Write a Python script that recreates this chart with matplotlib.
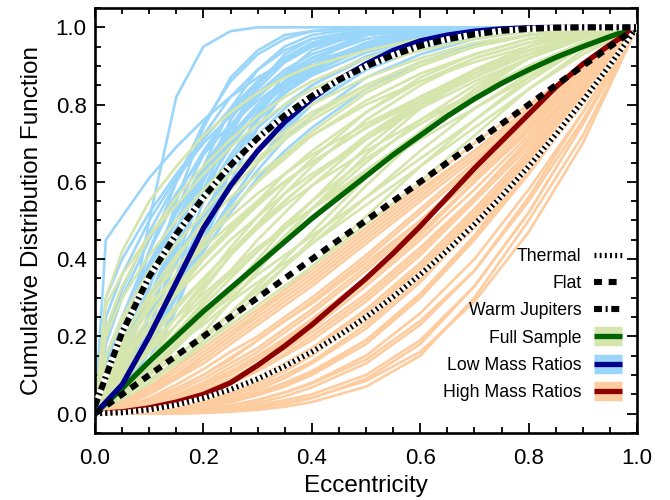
import matplotlib
matplotlib.use('Agg')
import matplotlib.pyplot as plt
from matplotlib.lines import Line2D
from matplotlib.ticker import MultipleLocator

plt.rcParams['font.family'] = ['Liberation Sans', 'DejaVu Sans']

# eccentricity grid for the reference / median curves
ecc_fine = [0.0, 0.05, 0.1, 0.15, 0.2, 0.25, 0.3, 0.35, 0.4, 0.45, 0.5,
            0.55, 0.6, 0.65, 0.7, 0.75, 0.8, 0.85, 0.9, 0.95, 1.0]

thermal = [0.0, 0.0025, 0.01, 0.0225, 0.04, 0.0625, 0.09, 0.1225, 0.16, 0.2025, 0.25,
           0.3025, 0.36, 0.4225, 0.49, 0.5625, 0.64, 0.7225, 0.81, 0.9025, 1.0]
flat = [0.0, 0.05, 0.1, 0.15, 0.2, 0.25, 0.3, 0.35, 0.4, 0.45, 0.5,
        0.55, 0.6, 0.65, 0.7, 0.75, 0.8, 0.85, 0.9, 0.95, 1.0]
warm_jupiters = [0.02, 0.21, 0.355, 0.465, 0.56, 0.643, 0.713, 0.772, 0.822, 0.864, 0.899,
                 0.928, 0.952, 0.969, 0.982, 0.991, 0.996, 0.999, 1.0, 1.0, 1.0]
full_sample = [0.0, 0.065, 0.135, 0.20, 0.265, 0.325, 0.385, 0.445, 0.505, 0.56, 0.615,
               0.67, 0.72, 0.77, 0.815, 0.855, 0.89, 0.922, 0.95, 0.976, 1.0]
low_mass = [0.0, 0.075, 0.20, 0.34, 0.48, 0.59, 0.68, 0.755, 0.815, 0.865, 0.905,
            0.94, 0.965, 0.98, 0.99, 0.996, 0.999, 1.0, 1.0, 1.0, 1.0]
high_mass = [0.0, 0.005, 0.015, 0.03, 0.05, 0.08, 0.125, 0.175, 0.23, 0.29, 0.35,
             0.415, 0.485, 0.56, 0.635, 0.705, 0.775, 0.845, 0.905, 0.955, 1.0]

# eccentricity grid for the individual posterior draws
ecc_grid = [0.0, 0.02, 0.05, 0.1, 0.15, 0.2, 0.25, 0.3, 0.35, 0.4, 0.5, 0.6, 0.7, 0.8, 0.9, 1.0]

low_mass_draws = [
    [0, .01, .12, .50, .82, .95, .99, 1, 1, 1, 1, 1, 1, 1, 1, 1],
    [0, .45, .51, .61, .69, .76, .82, .87, .91, .95, .98, .995, 1, 1, 1, 1],
    [0, .30, .40, .52, .62, .71, .79, .86, .91, .95, .99, 1, 1, 1, 1, 1],
    [0, .20, .32, .47, .60, .72, .82, .89, .94, .97, .99, 1, 1, 1, 1, 1],
    [0, .05, .20, .42, .60, .75, .86, .93, .97, .99, 1, 1, 1, 1, 1, 1],
    [0, .03, .12, .32, .55, .74, .87, .94, .98, .99, 1, 1, 1, 1, 1, 1],
    [0, .10, .22, .38, .52, .64, .74, .82, .88, .92, .97, .99, 1, 1, 1, 1],
    [0, .02, .08, .25, .45, .64, .79, .89, .95, .98, 1, 1, 1, 1, 1, 1],
    [0, .15, .25, .37, .47, .57, .66, .74, .80, .85, .92, .96, .985, .995, 1, 1],
    [0, .04, .13, .30, .47, .62, .74, .83, .89, .93, .98, .995, 1, 1, 1, 1],
    [0, .01, .05, .18, .36, .55, .72, .85, .93, .97, .995, 1, 1, 1, 1, 1],
    [0, .06, .15, .30, .44, .56, .67, .76, .83, .88, .95, .98, .995, 1, 1, 1],
    [0, .02, .07, .20, .35, .50, .63, .74, .83, .89, .96, .99, 1, 1, 1, 1],
    [0, .08, .17, .30, .41, .51, .60, .68, .75, .81, .90, .95, .98, .995, 1, 1],
    [0, .01, .04, .14, .28, .44, .60, .74, .84, .91, .98, 1, 1, 1, 1, 1],
    [0, .03, .09, .20, .32, .44, .55, .65, .74, .81, .91, .96, .99, 1, 1, 1],
    [0, .12, .25, .42, .56, .68, .78, .86, .92, .96, .99, 1, 1, 1, 1, 1],
    [0, .005, .03, .12, .27, .45, .63, .78, .88, .94, .99, 1, 1, 1, 1, 1],
    [0, .07, .18, .35, .50, .63, .74, .82, .88, .92, .97, .99, 1, 1, 1, 1],
    [0, .02, .08, .22, .40, .58, .73, .84, .91, .95, .99, 1, 1, 1, 1, 1],
    [0, .04, .10, .22, .33, .44, .54, .63, .71, .77, .87, .93, .97, .99, 1, 1],
    [0, .01, .05, .16, .31, .48, .64, .77, .86, .92, .98, .995, 1, 1, 1, 1],
    [0, .09, .20, .36, .50, .62, .72, .80, .86, .90, .96, .99, 1, 1, 1, 1],
    [0, .03, .10, .26, .43, .60, .74, .85, .92, .96, .995, 1, 1, 1, 1, 1],
    [0, .05, .14, .30, .45, .58, .69, .78, .85, .90, .955, .98, .993, 1, 1, 1],
    [0, .18, .30, .45, .57, .67, .75, .81, .86, .90, .95, .975, .99, .997, 1, 1],
    [0, .02, .06, .17, .30, .43, .55, .65, .73, .80, .89, .945, .975, .99, 1, 1],
    [0, .11, .22, .37, .50, .61, .70, .77, .83, .875, .935, .97, .99, .997, 1, 1],
    [0, .04, .11, .25, .39, .52, .63, .72, .79, .85, .925, .965, .985, .995, 1, 1],
    [0, .01, .06, .22, .42, .61, .76, .86, .92, .955, .99, 1, 1, 1, 1, 1],
    [0, .25, .36, .50, .61, .70, .77, .83, .875, .91, .955, .98, .993, 1, 1, 1],
    [0, .06, .16, .33, .48, .61, .71, .79, .855, .90, .96, .985, .996, 1, 1, 1],
    [0, .03, .08, .19, .31, .42, .52, .61, .68, .74, .84, .91, .955, .98, .995, 1],
    [0, .08, .19, .37, .53, .67, .78, .86, .915, .95, .985, .997, 1, 1, 1, 1],
    [0, .015, .06, .19, .35, .51, .65, .76, .84, .895, .96, .99, 1, 1, 1, 1],
    [0, .13, .24, .39, .52, .63, .72, .79, .845, .885, .945, .975, .99, .998, 1, 1],
]

full_sample_draws = [
    [0, .28, .36, .46, .54, .62, .69, .75, .80, .84, .90, .94, .97, .99, 1, 1],
    [0, .15, .24, .35, .44, .52, .60, .66, .72, .77, .85, .91, .95, .98, .995, 1],
    [0, .08, .16, .27, .36, .45, .53, .60, .66, .72, .81, .88, .93, .97, .99, 1],
    [0, .03, .08, .16, .25, .34, .43, .51, .59, .66, .78, .87, .93, .97, .99, 1],
    [0, .05, .11, .20, .28, .35, .42, .49, .55, .61, .71, .80, .87, .93, .98, 1],
    [0, .02, .05, .11, .18, .25, .32, .39, .46, .53, .65, .76, .85, .92, .97, 1],
    [0, .10, .18, .28, .36, .43, .49, .55, .60, .65, .74, .82, .88, .94, .98, 1],
    [0, .01, .04, .10, .17, .24, .32, .40, .48, .55, .69, .80, .89, .95, .99, 1],
    [0, .04, .09, .16, .23, .30, .36, .42, .48, .53, .63, .72, .81, .89, .96, 1],
    [0, .02, .05, .10, .15, .20, .26, .32, .38, .44, .56, .68, .79, .88, .96, 1],
    [0, .12, .20, .30, .38, .45, .51, .57, .62, .67, .75, .82, .89, .94, .98, 1],
    [0, .01, .03, .07, .12, .18, .24, .31, .38, .45, .59, .72, .83, .92, .98, 1],
    [0, .06, .14, .25, .35, .44, .53, .60, .67, .73, .83, .90, .95, .98, .995, 1],
    [0, .03, .07, .13, .19, .25, .30, .36, .41, .46, .56, .66, .76, .86, .95, 1],
    [0, .20, .30, .41, .50, .58, .65, .71, .76, .80, .87, .92, .96, .98, .995, 1],
    [0, .01, .03, .08, .14, .21, .29, .37, .45, .53, .67, .79, .88, .95, .99, 1],
    [0, .05, .12, .22, .31, .40, .48, .55, .62, .68, .78, .86, .92, .96, .99, 1],
    [0, .02, .04, .09, .13, .18, .23, .28, .33, .38, .49, .60, .72, .84, .94, 1],
    [0, .07, .14, .23, .31, .38, .45, .51, .57, .62, .71, .79, .86, .92, .97, 1],
    [0, .02, .06, .13, .21, .29, .37, .45, .52, .59, .71, .81, .89, .95, .99, 1],
    [0, .30, .42, .55, .64, .72, .78, .83, .87, .90, .94, .97, .99, 1, 1, 1],
    [0, .04, .10, .19, .27, .35, .42, .48, .54, .59, .68, .76, .83, .90, .96, 1],
    [0, .01, .02, .06, .10, .15, .20, .26, .32, .38, .51, .64, .76, .87, .96, 1],
    [0, .09, .17, .29, .40, .50, .58, .65, .71, .76, .84, .90, .95, .98, .995, 1],
    [0, .06, .13, .23, .32, .40, .47, .54, .60, .65, .74, .82, .88, .93, .975, 1],
    [0, .03, .07, .14, .21, .28, .35, .42, .49, .55, .66, .75, .83, .90, .96, 1],
    [0, .15, .25, .37, .47, .55, .62, .68, .73, .78, .85, .91, .95, .98, .995, 1],
    [0, .02, .05, .11, .17, .24, .31, .38, .45, .51, .63, .73, .82, .90, .96, 1],
    [0, .08, .15, .25, .33, .41, .48, .54, .60, .65, .74, .81, .87, .93, .975, 1],
    [0, .01, .03, .08, .13, .19, .26, .33, .40, .47, .61, .73, .84, .92, .98, 1],
    [0, .04, .09, .17, .25, .33, .41, .48, .55, .61, .72, .81, .88, .94, .98, 1],
    [0, .22, .33, .46, .56, .64, .71, .77, .82, .86, .92, .96, .98, .995, 1, 1],
    [0, .05, .10, .18, .25, .31, .37, .43, .48, .53, .62, .71, .79, .87, .95, 1],
    [0, .02, .06, .14, .23, .32, .41, .49, .57, .64, .76, .85, .92, .96, .99, 1],
    [0, .10, .19, .31, .41, .49, .56, .62, .67, .72, .80, .86, .91, .95, .985, 1],
    [0, .03, .06, .12, .18, .23, .29, .34, .39, .44, .54, .64, .74, .84, .93, 1],
]

high_mass_draws = [
    [0, 0, 0, 0, 0, .002, .005, .01, .018, .03, .07, .15, .30, .50, .72, 1],
    [0, 0, 0, 0, .001, .003, .008, .015, .025, .04, .09, .18, .33, .52, .75, 1],
    [0, 0, 0, .001, .004, .01, .02, .035, .055, .08, .15, .26, .40, .58, .78, 1],
    [0, 0, 0, .002, .007, .016, .03, .05, .075, .105, .19, .30, .45, .62, .81, 1],
    [0, 0, .001, .005, .014, .03, .05, .078, .11, .15, .25, .37, .51, .67, .84, 1],
    [0, 0, .002, .008, .02, .04, .065, .095, .13, .17, .27, .39, .53, .68, .84, 1],
    [0, .001, .004, .015, .035, .06, .09, .13, .17, .22, .33, .45, .58, .72, .86, 1],
    [0, .002, .008, .025, .05, .08, .12, .16, .21, .26, .37, .49, .61, .74, .87, 1],
    [0, .003, .012, .035, .065, .10, .14, .19, .24, .29, .40, .52, .64, .76, .88, 1],
    [0, .005, .018, .05, .09, .13, .18, .23, .28, .33, .44, .55, .66, .77, .88, 1],
    [0, .008, .025, .065, .11, .16, .21, .26, .31, .36, .47, .58, .68, .79, .89, 1],
    [0, .001, .003, .01, .022, .04, .062, .09, .12, .155, .24, .35, .48, .63, .80, 1],
    [0, 0, .001, .003, .008, .017, .03, .048, .07, .10, .18, .30, .46, .65, .84, 1],
    [0, .002, .006, .02, .04, .068, .10, .14, .185, .23, .34, .46, .60, .74, .88, 1],
    [0, 0, 0, .001, .003, .007, .013, .022, .035, .05, .10, .19, .33, .52, .75, 1],
    [0, .004, .014, .04, .075, .115, .16, .20, .25, .30, .41, .53, .65, .78, .90, 1],
    [0, .001, .005, .017, .035, .06, .09, .125, .165, .21, .31, .43, .56, .71, .86, 1],
    [0, 0, .001, .004, .012, .025, .045, .07, .10, .135, .23, .35, .50, .66, .83, 1],
    [0, .01, .03, .07, .12, .17, .22, .27, .32, .37, .48, .59, .70, .80, .90, 1],
    [0, 0, 0, .001, .002, .005, .01, .018, .028, .042, .085, .16, .29, .47, .70, 1],
    [0, .003, .01, .03, .058, .09, .13, .17, .22, .27, .38, .50, .63, .76, .89, 1],
    [0, 0, .001, .006, .016, .032, .055, .085, .12, .16, .26, .38, .52, .67, .84, 1],
    [0, .001, .004, .012, .027, .05, .078, .11, .15, .19, .29, .41, .55, .69, .85, 1],
    [0, .006, .02, .055, .095, .14, .19, .24, .29, .34, .45, .56, .67, .78, .89, 1],
    [0, 0, 0, .002, .005, .012, .022, .036, .055, .078, .14, .24, .37, .55, .76, 1],
    [0, .002, .007, .022, .045, .075, .11, .15, .195, .245, .35, .47, .60, .73, .87, 1],
    [0, 0, .001, .004, .01, .02, .035, .055, .08, .11, .19, .31, .46, .63, .82, 1],
    [0, .004, .012, .035, .065, .10, .145, .19, .24, .285, .39, .50, .62, .75, .88, 1],
    [0, 0, .001, .003, .009, .02, .038, .062, .092, .13, .22, .34, .49, .66, .84, 1],
    [0, .001, .003, .012, .028, .05, .08, .115, .155, .20, .30, .42, .56, .70, .86, 1],
    [0, 0, 0, .001, .003, .008, .016, .028, .045, .068, .13, .23, .37, .56, .78, 1],
    [0, .007, .022, .06, .10, .15, .20, .25, .30, .35, .46, .57, .68, .79, .90, 1],
    [0, .001, .005, .018, .04, .07, .105, .145, .19, .24, .35, .47, .60, .74, .88, 1],
    [0, 0, .002, .007, .018, .035, .058, .088, .125, .165, .26, .37, .50, .65, .83, 1],
]

legend_labels = ['Thermal', 'Flat', 'Warm Jupiters', 'Full Sample',
                 'Low Mass Ratios', 'High Mass Ratios']

light_blue = '#9ad5fa'
light_green = '#d5e5ab'
light_orange = '#fdcc9f'
dark_blue = '#00008c'
dark_green = '#006400'
dark_red = '#8c0000'

fig = plt.figure(figsize=(6.7, 5), dpi=100)
ax = fig.add_axes([0.1418, 0.134, 0.809, 0.850])

thin = 1.9
for ys in low_mass_draws:
    ax.plot(ecc_grid, ys, color=light_blue, lw=thin, zorder=1)
for ys in full_sample_draws:
    ax.plot(ecc_grid, ys, color=light_green, lw=thin, zorder=2)
for ys in high_mass_draws:
    ax.plot(ecc_grid, ys, color=light_orange, lw=thin, zorder=3)

thick = 3.8
ax.plot(ecc_fine, full_sample, color=dark_green, lw=thick, zorder=5)
ax.plot(ecc_fine, low_mass, color=dark_blue, lw=thick, zorder=5)
ax.plot(ecc_fine, high_mass, color=dark_red, lw=thick, zorder=5)

dot_ls = (0, (0.36, 0.62))
dash_ls = (0, (1.3, 1.1))
dashdot_ls = (0, (1.3, 0.6, 0.33, 0.6))
ax.plot(ecc_fine, thermal, color='black', lw=3.8, ls=dot_ls, dash_capstyle='butt',
        gapcolor='white', zorder=6)
ax.plot(ecc_fine, flat, color='black', lw=4.4, ls=dash_ls, dash_capstyle='butt', zorder=6)
ax.plot(ecc_fine, warm_jupiters, color='black', lw=4.4, ls=dashdot_ls, dash_capstyle='butt',
        gapcolor='white', zorder=6)

ax.set_xlim(0, 1)
ax.set_ylim(-0.05, 1.05)
ax.xaxis.set_major_locator(MultipleLocator(0.2))
ax.xaxis.set_minor_locator(MultipleLocator(0.05))
ax.yaxis.set_major_locator(MultipleLocator(0.2))
ax.yaxis.set_minor_locator(MultipleLocator(0.05))
ax.xaxis.set_major_formatter(plt.FormatStrFormatter('%.1f'))
ax.yaxis.set_major_formatter(plt.FormatStrFormatter('%.1f'))
ax.tick_params(which='both', direction='in', top=True, right=True, width=1.3, labelsize=16)
ax.tick_params(which='major', length=7.5)
ax.tick_params(which='minor', length=4.5)
ax.tick_params(axis='x', pad=11)
ax.tick_params(axis='y', pad=6)
for sp in ax.spines.values():
    sp.set_linewidth(1.9)

ax.set_xlabel('Eccentricity', fontsize=17.5, labelpad=4)
ax.set_ylabel('Cumulative Distribution Function', fontsize=17.5, labelpad=9)

h_thermal = Line2D([], [], color='black', lw=3.8, ls=dot_ls, dash_capstyle='butt')
h_flat = Line2D([], [], color='black', lw=4.4, ls=dash_ls, dash_capstyle='butt')
h_warm = Line2D([], [], color='black', lw=4.4, ls=dashdot_ls, dash_capstyle='butt')
h_full = (Line2D([], [], color=light_green, lw=14, solid_capstyle='butt'),
          Line2D([], [], color=dark_green, lw=3.8, solid_capstyle='butt'))
h_low = (Line2D([], [], color=light_blue, lw=14, solid_capstyle='butt'),
         Line2D([], [], color=dark_blue, lw=3.8, solid_capstyle='butt'))
h_high = (Line2D([], [], color=light_orange, lw=14, solid_capstyle='butt'),
          Line2D([], [], color=dark_red, lw=3.8, solid_capstyle='butt'))

leg = ax.legend([h_thermal, h_flat, h_warm, h_full, h_low, h_high], legend_labels,
                loc='lower right', bbox_to_anchor=(0.972, 0.075), frameon=False,
                markerfirst=False, fontsize=12.7, handlelength=1.6,
                handletextpad=0.7, labelspacing=0.58, borderpad=0, borderaxespad=0)
for t in leg.get_texts():
    t.set_ha('right')

fig.savefig('out.png', dpi=100)
